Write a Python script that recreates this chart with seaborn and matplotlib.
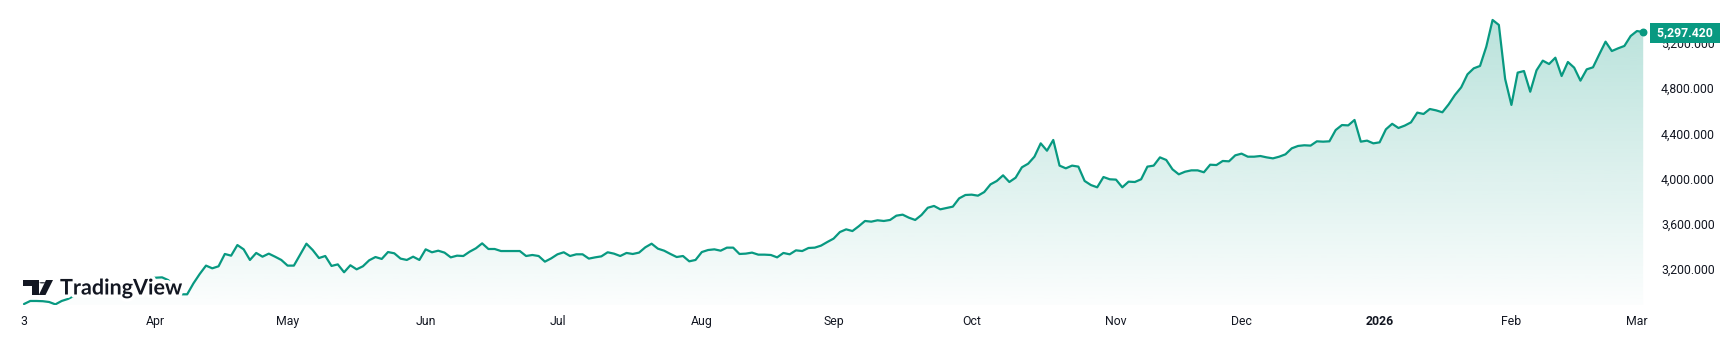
import numpy as np
import pandas as pd
import matplotlib
matplotlib.use("Agg")
import matplotlib.pyplot as plt
import matplotlib.patheffects as pe
from matplotlib.patches import Polygon, Circle
import seaborn as sns

# ---------------- data (XAUUSD daily closes) ----------------
start_date = "2025-03-03"
end_date = "2026-03-03"
closed_days = ["2025-04-18", "2025-12-25", "2026-01-01"]

close_mar_may = [2890, 2917, 2917, 2915, 2908, 2887, 2917, 2935, 2963, 2985,
                 3001, 3034, 3048, 3044, 3022, 3011, 3019, 3019, 3057, 3085,
                 3118, 3123, 3126, 3101, 3037, 2976, 2976, 3073, 3156, 3230,
                 3206, 3224, 3333, 3318, 3412, 3374, 3280, 3342, 3309, 3336,
                 3309, 3280, 3230, 3230, 3327, 3424, 3368, 3297, 3315, 3227,
                 3241, 3171, 3233, 3197, 3224, 3277, 3306, 3289, 3350, 3339,
                 3292, 3280, 3309, 3280]
close_jun_aug = [3374, 3348, 3362, 3345, 3303, 3318,
                 3315, 3353, 3383, 3427, 3377, 3377, 3359, 3359, 3359, 3359,
                 3315, 3324, 3315, 3265, 3294, 3330, 3348, 3315, 3330, 3330,
                 3292, 3303, 3312, 3348, 3336, 3315, 3342, 3333, 3345, 3392,
                 3424, 3380, 3362, 3333, 3306, 3315, 3268, 3280, 3350, 3368,
                 3374, 3362, 3389, 3389, 3333, 3336, 3345, 3327, 3327, 3324,
                 3303, 3342, 3330, 3365, 3359, 3386, 3389, 3407, 3439]
close_sep_nov = [3469,
                 3527, 3551, 3536, 3578, 3625, 3619, 3631, 3625, 3634, 3672,
                 3681, 3654, 3634, 3678, 3742, 3758, 3728, 3740, 3752, 3825,
                 3855, 3858, 3849, 3881, 3949, 3979, 4029, 3970, 4008, 4100,
                 4132, 4194, 4312, 4247, 4342, 4115, 4091, 4115, 4106, 3979,
                 3943, 3923, 4014, 3994, 3991, 3923, 3973, 3970, 3994, 4106,
                 4115, 4188, 4165, 4082, 4038, 4061, 4073, 4073, 4056, 4123,
                 4120, 4156, 4153, 4206]
close_dec_mar = [4221, 4194, 4194, 4200, 4188, 4179,
                 4194, 4215, 4268, 4289, 4295, 4292, 4330, 4327, 4330, 4430,
                 4474, 4471, 4519, 4327, 4336, 4312, 4321, 4436, 4485, 4448,
                 4469, 4498, 4584, 4572, 4616, 4604, 4587, 4657, 4740, 4808,
                 4923, 4976, 4997, 5168, 5404, 5360, 4882, 4652, 4938, 4952,
                 4769, 4958, 5044, 5014, 5070, 4908, 5032, 4982, 4867, 4967,
                 4985, 5100, 5212, 5129, 5153, 5174, 5262, 5306, 5297.42]
price_ticks = [3200, 3600, 4000, 4400, 4800, 5200]

# ---------------- build frame ----------------
dates = pd.bdate_range(start_date, end_date)
dates = dates[~dates.isin(pd.to_datetime(closed_days))]
values = close_mar_may + close_jun_aug + close_sep_nov + close_dec_mar
assert len(values) == len(dates), (len(values), len(dates))
df = pd.DataFrame({"date": dates, "close": values})
df["bar"] = np.arange(len(df))

TEAL = "#089981"
TEXT = "#131722"
W, H = 1736, 356

sns.set_theme(style="white")
plt.rcParams["font.family"] = ["Roboto", "DejaVu Sans"]

fig = plt.figure(figsize=(W / 100, H / 100), dpi=100)
fig.patch.set_facecolor("white")
ax = fig.add_axes([0, 1 - 305 / H, 1650 / W, 305 / H])
ax.set_facecolor("white")

xmin, xmax = -24 / 6.276, (1650 - 24) / 6.276
ymin, ymax = 2881.4, 5580.7

# gradient area fill clipped to the area under the line
fb = ax.fill_between(df["bar"], df["close"], ymin, lw=0, color="none")
clip_path = fb.get_paths()[0]
fb.remove()
n = 256
rgba = np.zeros((n, 1, 4))
rgba[..., :3] = matplotlib.colors.to_rgb(TEAL)
rgba[:, 0, 3] = np.linspace(0.015, 0.30, n)
im = ax.imshow(rgba, extent=[xmin, xmax, ymin, ymax], origin="lower",
               aspect="auto", interpolation="bilinear", zorder=1)
im.set_clip_path(clip_path, ax.transData)

sns.lineplot(data=df, x="bar", y="close", color=TEAL, linewidth=1.6, ax=ax, zorder=3)
last = df["close"].iloc[-1]
ax.scatter([df["bar"].iloc[-1]], [last], s=22, color=TEAL, zorder=4, clip_on=False)

ax.set_xlim(xmin, xmax)
ax.set_ylim(ymin, ymax)
for s in ax.spines.values():
    s.set_visible(False)
ax.grid(False)
ax.set_xlabel("")
ax.set_ylabel("")

# x ticks: first bar of each month (day number for the very first bar)
tick_pos, tick_lab = [0], [str(df["date"].iloc[0].day)]
months = df["date"].dt.to_period("M")
for i in range(1, len(df)):
    if months.iloc[i] != months.iloc[i - 1]:
        d = df["date"].iloc[i]
        tick_pos.append(i)
        tick_lab.append(str(d.year) if d.month == 1 else d.strftime("%b"))
ax.set_xticks(tick_pos)
ax.set_xticklabels(tick_lab)
for t in ax.get_xticklabels():
    if t.get_text().isdigit() and len(t.get_text()) == 4:
        t.set_fontweight("bold")
ax.tick_params(axis="x", length=0, pad=7, labelsize=8.8, labelcolor=TEXT)

ax.yaxis.tick_right()
ax.set_yticks(price_ticks)
ax.set_yticklabels([f"{v:,.3f}" for v in price_ticks])
ax.tick_params(axis="y", length=0, pad=8, labelsize=8.8, labelcolor=TEXT)

# last price label
ax.annotate(f" {last:,.3f} ", xy=(1, last), xycoords=("axes fraction", "data"),
            xytext=(35, -1), textcoords="offset pixels", ha="center", va="center",
            fontsize=8.8, fontweight="bold", color="white", zorder=10,
            annotation_clip=False,
            bbox=dict(boxstyle="square,pad=0.3", fc=TEAL, ec="none"))

# TradingView watermark
def fp(x, y):
    return (x / W, 1 - y / H)

icon_col = "#131722"
fig.add_artist(Polygon([fp(22.5, 280), fp(38.5, 280), fp(38.5, 295), fp(31.5, 295),
                        fp(31.5, 286), fp(22.5, 286)], closed=True, fc=icon_col,
                       ec="none", transform=fig.transFigure, zorder=5))
fig.add_artist(Circle(fp(42.3, 282.8), radius=2.9 / W, fc=icon_col, ec="none",
                      transform=fig.transFigure, zorder=5))
fig.add_artist(Polygon([fp(46, 280), fp(53, 280), fp(45.5, 295), fp(38.8, 295)],
                       closed=True, fc=icon_col, ec="none",
                       transform=fig.transFigure, zorder=5))
fig.text(60 / W, 1 - 294.5 / H, "TradingView", fontsize=15.5, fontweight="bold",
         family=["Lato", "DejaVu Sans"], color=icon_col, ha="left", va="baseline",
         zorder=6,
         path_effects=[pe.withStroke(linewidth=5, foreground="white")])

fig.savefig("out.png", dpi=100, facecolor="white")
